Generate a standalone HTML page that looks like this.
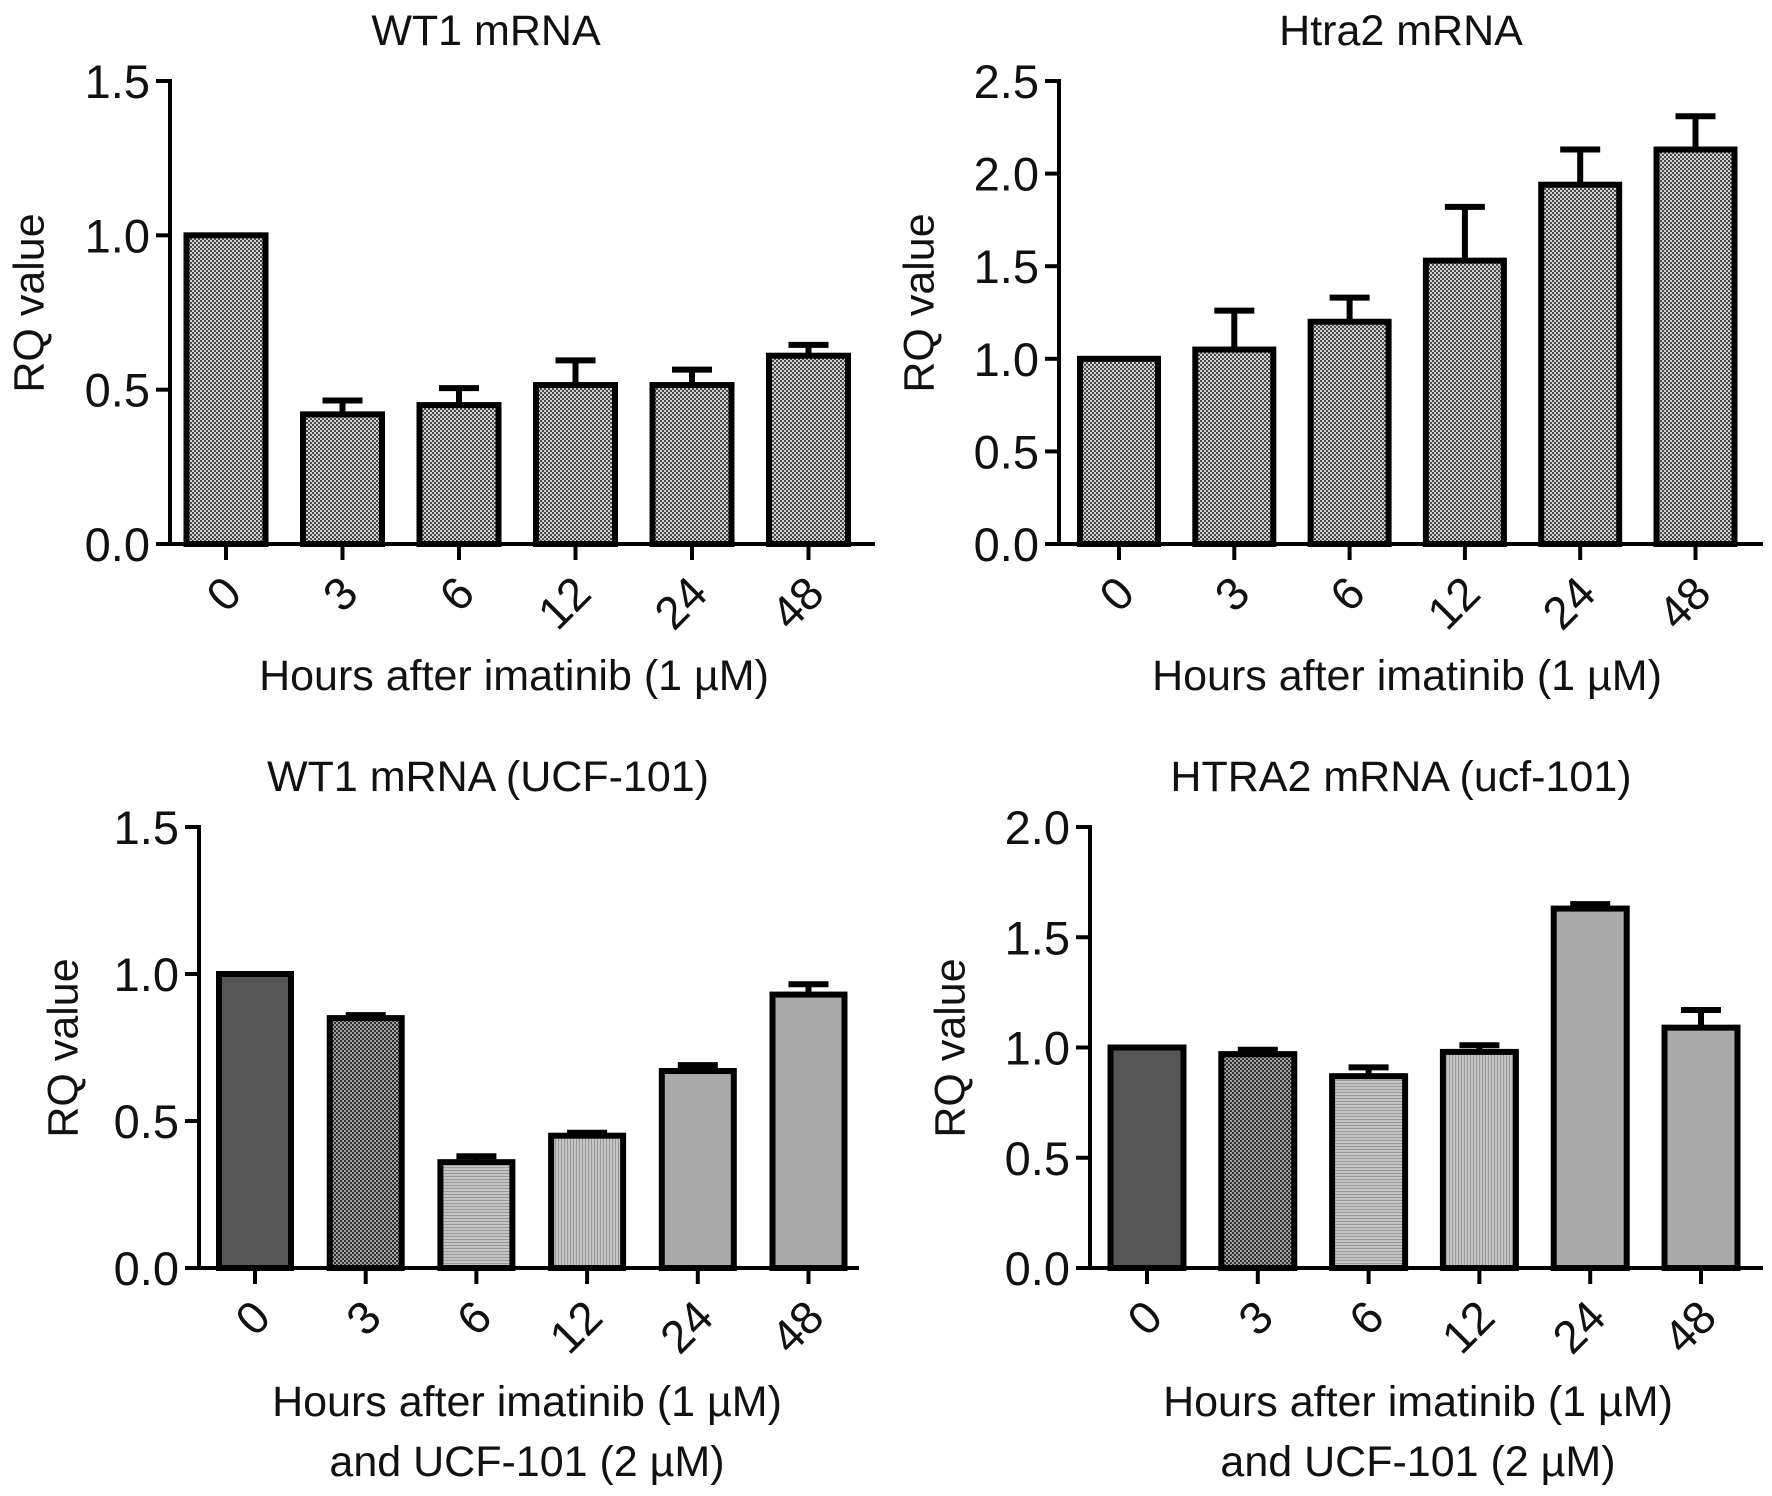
<!DOCTYPE html>
<html><head><meta charset="utf-8"><style>
html,body{margin:0;padding:0;background:#fff;overflow:hidden}
svg{display:block}
text{font-family:"Liberation Sans",sans-serif;fill:#111}
</style></head><body>
<svg id="chart" width="1772" height="1496" viewBox="0 0 1772 1496" xmlns="http://www.w3.org/2000/svg">
<defs>
<pattern id="pChk" width="4" height="4" patternUnits="userSpaceOnUse"><rect width="4" height="4" fill="#d0d0d0"/><rect width="2" height="2" fill="#4a4a4a"/><rect x="2" y="2" width="2" height="2" fill="#4a4a4a"/></pattern>
<pattern id="pChkD" width="4" height="4" patternUnits="userSpaceOnUse"><rect width="4" height="4" fill="#a0a0a0"/><rect width="2" height="2" fill="#333"/><rect x="2" y="2" width="2" height="2" fill="#333"/></pattern>
<pattern id="pHor" width="4" height="3" patternUnits="userSpaceOnUse"><rect width="4" height="3" fill="#c4c4c4"/><rect width="4" height="1" fill="#999"/></pattern>
<pattern id="pVer" width="3" height="4" patternUnits="userSpaceOnUse"><rect width="3" height="4" fill="#c4c4c4"/><rect width="1" height="4" fill="#999"/></pattern>
</defs>
</svg>
<script>
var categories = ["0","3","6","12","24","48"];
var wt1Values = [1.0, 0.42, 0.45, 0.515, 0.515, 0.61];
var wt1Errors = [0, 0.045, 0.055, 0.08, 0.05, 0.035];
var htra2Values = [1.0, 1.05, 1.2, 1.53, 1.94, 2.13];
var htra2Errors = [0, 0.21, 0.13, 0.29, 0.19, 0.18];
var wt1UcfValues = [1.0, 0.85, 0.36, 0.45, 0.67, 0.93];
var wt1UcfErrors = [0, 0.01, 0.02, 0.01, 0.02, 0.035];
var htra2UcfValues = [1.0, 0.97, 0.87, 0.98, 1.63, 1.09];
var htra2UcfErrors = [0, 0.02, 0.04, 0.03, 0.02, 0.08];
var ticks15 = ["0.0","0.5","1.0","1.5"];
var ticks25 = ["0.0","0.5","1.0","1.5","2.0","2.5"];
var ticks20 = ["0.0","0.5","1.0","1.5","2.0"];

var NS = "http://www.w3.org/2000/svg";
var svg = document.getElementById("chart");
function mk(tag, attrs, parent){var e=document.createElementNS(NS,tag);for(var k in attrs)e.setAttribute(k,attrs[k]);(parent||svg).appendChild(e);return e;}

var panels = [
 {id:"wt1", title:"WT1 mRNA", tx:486, ty:45, ax:170, x0:226, step:116.5, bw:79, yTop:81, yBot:544, xEnd:875, ylx:32, yly:303, vals:wt1Values, errs:wt1Errors, ticks:ticks15, max:1.5, fills:["url(#pChk)","url(#pChk)","url(#pChk)","url(#pChk)","url(#pChk)","url(#pChk)"], xt:["Hours after imatinib (1 µM)"], xtx:514, xty:690},
 {id:"htra2", title:"Htra2 mRNA", tx:1401, ty:45, ax:1059, x0:1119, step:115.3, bw:78, yTop:81, yBot:544, xEnd:1763, ylx:922, yly:303, vals:htra2Values, errs:htra2Errors, ticks:ticks25, max:2.5, fills:["url(#pChk)","url(#pChk)","url(#pChk)","url(#pChk)","url(#pChk)","url(#pChk)"], xt:["Hours after imatinib (1 µM)"], xtx:1407, xty:690},
 {id:"wt1-ucf", title:"WT1 mRNA (UCF-101)", tx:488, ty:791, ax:199, x0:255, step:110.7, bw:72, yTop:827, yBot:1268, xEnd:859, ylx:66, yly:1048, vals:wt1UcfValues, errs:wt1UcfErrors, ticks:ticks15, max:1.5, fills:["#555","url(#pChkD)","url(#pHor)","url(#pVer)","#aaa","#aaa"], xt:["Hours after imatinib (1 µM)","and UCF-101 (2 µM)"], xtx:527, xty:1416},
 {id:"htra2-ucf", title:"HTRA2 mRNA (ucf-101)", tx:1401, ty:791, ax:1090, x0:1147, step:110.8, bw:73, yTop:827, yBot:1268, xEnd:1763, ylx:953, yly:1048, vals:htra2UcfValues, errs:htra2UcfErrors, ticks:ticks20, max:2.0, fills:["#555","url(#pChkD)","url(#pHor)","url(#pVer)","#aaa","#aaa"], xt:["Hours after imatinib (1 µM)","and UCF-101 (2 µM)"], xtx:1418, xty:1416}
];

panels.forEach(function(p){
  var g = mk("g",{});
  
  
  function yScale(v){return p.yBot-(v/p.max)*(p.yBot-p.yTop);}
  function xScale(i){return p.x0+i*p.step;}
  var t = mk("text",{x:p.tx,y:p.ty,"text-anchor":"middle","font-size":43},g); t.textContent=p.title;
  
  
  p.vals.forEach(function(v,i){
    var cx=xScale(i), y=yScale(v);
    var e=p.errs[i];
    if(e>0){
      var ey=yScale(v+e);
      var eb=mk("path",{d:"M"+cx+" "+y+"V"+ey+"M"+(cx-20)+" "+ey+"H"+(cx+20),stroke:"#000","stroke-width":6,fill:"none"},g);
      
      
    }
    var r=mk("rect",{x:cx-p.bw/2,y:y,width:p.bw,height:p.yBot-y,fill:p.fills[i],stroke:"#000","stroke-width":6},g);
    
    
  });
  var ya=mk("path",{d:"M"+p.ax+" "+(p.yTop-2)+"V"+p.yBot,stroke:"#000","stroke-width":4,fill:"none"},g);
  
  
  var xa=mk("path",{d:"M"+(p.ax-2)+" "+p.yBot+"H"+p.xEnd,stroke:"#000","stroke-width":4,fill:"none"},g);
  
  
  p.ticks.forEach(function(tl){
    var y=yScale(parseFloat(tl));
    mk("path",{d:"M"+(p.ax-14)+" "+y+"H"+p.ax,stroke:"#000","stroke-width":4},g);
    var tt=mk("text",{x:p.ax-20,y:y+17,"text-anchor":"end","font-size":47},g); tt.textContent=tl;
    
    
  });
  categories.forEach(function(c,i){
    var cx=xScale(i);
    mk("path",{d:"M"+cx+" "+p.yBot+"V"+(p.yBot+16),stroke:"#000","stroke-width":4},g);
    var lx=cx+18, ly=p.yBot+52;
    var tt=mk("text",{x:lx,y:ly,"text-anchor":"end","font-size":46,transform:"rotate(-45 "+lx+" "+ly+")"},g); tt.textContent=c;
    
    
  });
  var yl=mk("text",{x:p.ylx,y:p.yly,"text-anchor":"middle","dominant-baseline":"middle","font-size":43,transform:"rotate(-90 "+p.ylx+" "+p.yly+")"},g); yl.textContent="RQ value";
  
  
  p.xt.forEach(function(line,k){
    var xl=mk("text",{x:p.xtx,y:p.xty + k*60,"text-anchor":"middle","font-size":43},g); xl.textContent=line;
    
    
  });
});
</script>
</body></html>
